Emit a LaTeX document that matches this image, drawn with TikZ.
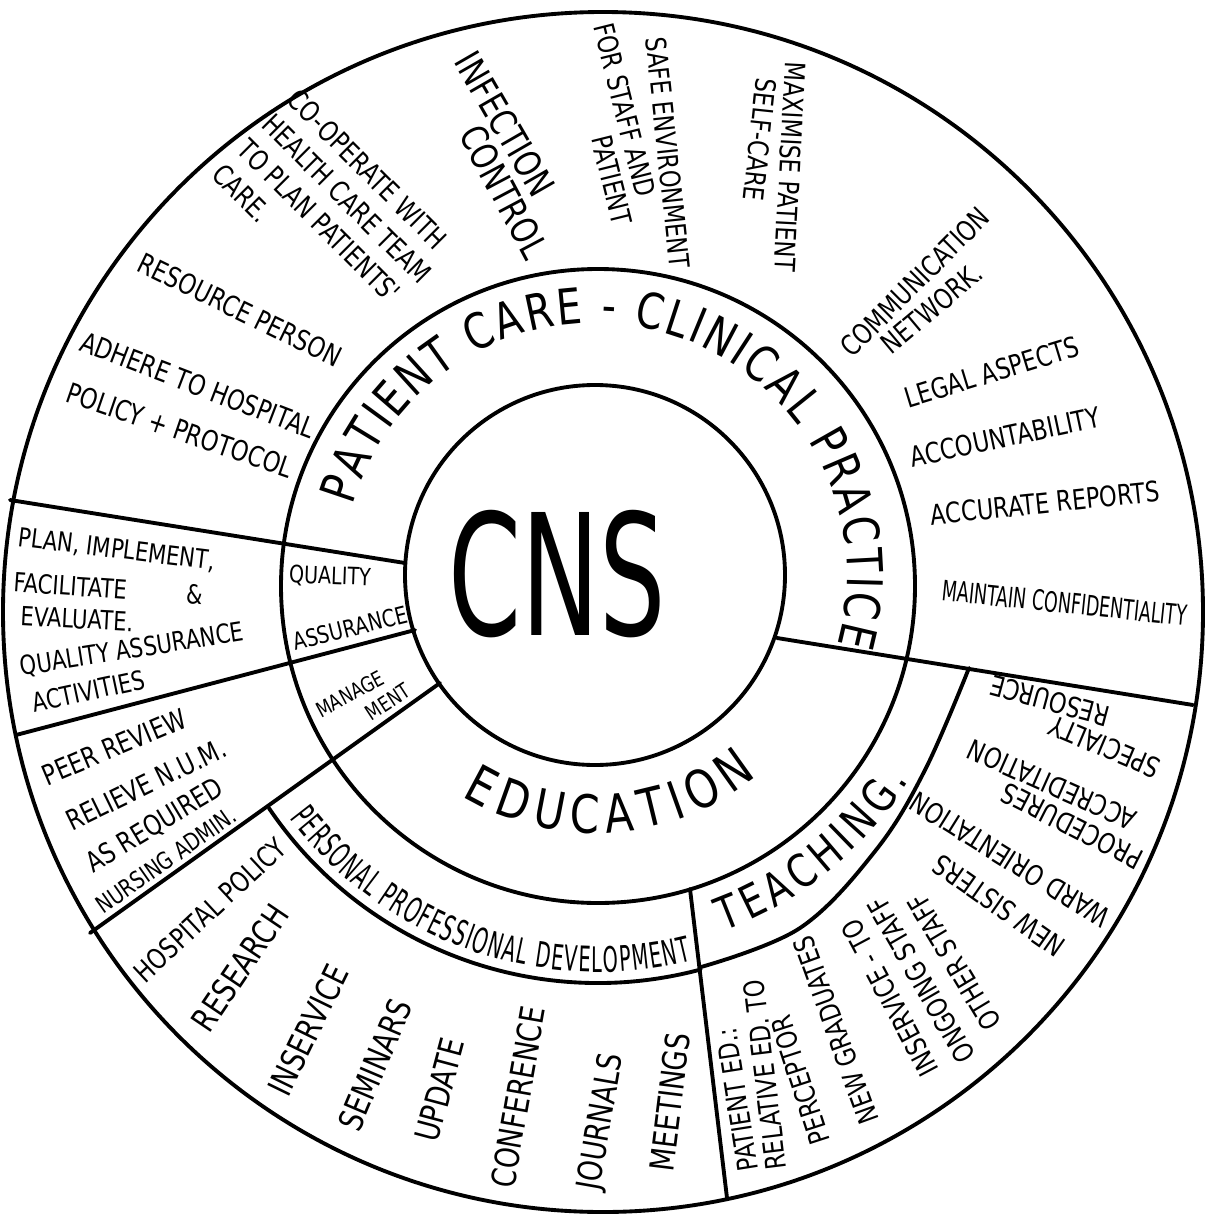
\documentclass[tikz,border=0pt]{standalone}
\usepackage{fontspec}
\usetikzlibrary{decorations.text}

\newfontfamily\hand{DejaVu Sans}[FakeStretch=0.8]
\newfontfamily\handc{DejaVu Sans}[FakeStretch=0.62]
\newfontfamily\handn{DejaVu Sans}[FakeStretch=0.55]

\tikzset{
  rim/.style={line width=1.1pt, line cap=round, line join=round},
  note/.style={font=\hand\fontsize{8}{10}\selectfont, inner sep=0pt, align=center},
  small/.style={note, font=\hand\fontsize{6.8}{8.5}\selectfont},
  tiny/.style={note, font=\hand\fontsize{6}{7}\selectfont},
  big/.style={note, font=\hand\fontsize{9.5}{11}\selectfont},
  curved/.style={decorate, decoration={text along path, text align=fit to path, text={#1}}}
}

\begin{document}
\begin{tikzpicture}[x=0.01cm, y=-0.01cm]
  \useasboundingbox (0,0) rectangle (1206,1218);

  % centres of the rings
  \coordinate (o) at (603,612);
  \coordinate (m) at (598,586);
  \coordinate (c) at (595,575);

  % rings
  \draw[rim] (o) circle[radius=600];
  \draw[rim] (m) circle[radius=317];
  \draw[rim] (c) circle[radius=190];

  % spokes
  \coordinate (ulA) at (10,500);   \coordinate (ulB) at (405,563);
  \coordinate (qmA) at (16,735);   \coordinate (qmB) at (415,630);
  \coordinate (llA) at (90,933);   \coordinate (llB) at (440,683);
  \coordinate (rsA) at (777,638);  \coordinate (rsB) at (1193,705);
  \coordinate (vsA) at (690,889);  \coordinate (vsB) at (727,1198);
  \foreach \a in {ul,qm,ll,rs,vs}
    \draw[rim] (\a A) -- (\a B);

  % outer edges of the development and teaching bands
  \draw[rim] (m) ++(146:397) arc[start angle=146, end angle=75, radius=397];
  \draw[rim] plot[smooth, tension=0.6] coordinates {(701,967) (800,928) (876,850) (925,770) (969,668)};

  % centre
  \node[font=\handc\fontsize{48}{48}\selectfont, inner sep=0pt] (cns) at (557,574) {CNS};

  % inner band
  \path[curved={|\hand\fontsize{14}{14}\selectfont|PATIENT CARE - CLINICAL PRACTICE}]
    (c) ++(196:252) arc[start angle=196, end angle=376, radius=252];
  \path[curved={|\hand\fontsize{15}{15}\selectfont|EDUCATION}]
    (c) ++(121:258) arc[start angle=121, end angle=51, radius=258];
  \node[small, rotate=-2] (qual) at (330,577) {QUALITY};
  \node[small, rotate=14] (assur) at (350,628) {ASSURANCE};
  \node[tiny, rotate=28] (mgmtA) at (350,694) {MANAGE};
  \node[tiny, rotate=33] (mgmtB) at (388,702) {MENT};

  % development and teaching bands
  \path[curved={|\handn\fontsize{10}{10}\selectfont|PERSONAL PROFESSIONAL DEVELOPMENT}]
    (m) ++(143:386) arc[start angle=143, end angle=76, radius=386];
  \path[curved={|\hand\fontsize{13}{13}\selectfont|TEACHING.}]
    (m) ++(70:367) arc[start angle=70, end angle=32, radius=367];

  % patient care items
  \node[note, align=left, rotate=-45, anchor=north west] (coop) at (300,86)
    {CO-OPERATE WITH\\HEALTH CARE TEAM\\TO PLAN PATIENTS'\\CARE.};
  \foreach \x/\y/\ang/\txt [count=\i] in {505/124/-60/INFECTION, 504/192/-62/CONTROL}
    \node[big, font=\hand\fontsize{10.5}{12}\selectfont, rotate=\ang] (inf\i) at (\x,\y) {\txt};
  \foreach \x/\y/\ang/\txt [count=\i] in {
      668/153/-84/{SAFE ENVIRONMENT}, 625/110/-76/{FOR STAFF AND}, 612/180/-76/PATIENT,
      790/167/-93/{MAXIMISE PATIENT}, 760/140/-96/SELF-CARE,
      915/282/45/COMMUNICATION, 932/308/40/NETWORK.,
      992/372/17/{LEGAL ASPECTS}, 1005/437/12/ACCOUNTABILITY,
      1045/503/6/{ACCURATE REPORTS},
      240/310/-26/{RESOURCE PERSON},
      198/385/-21/{ADHERE TO HOSPITAL}, 180/430/-19/{POLICY + PROTOCOL}}
    \node[note, rotate=\ang] (care\i) at (\x,\y) {\txt};
  \node[note, font=\handc\fontsize{8}{9}\selectfont, rotate=-6] (conf) at (1065,603)
    {MAINTAIN CONFIDENTIALITY};

  % quality assurance sector
  \foreach \x/\y/\ang/\txt [count=\i] in {
      18/538/-7/{PLAN, IMPLEMENT,}, 13/582/-4/{FACILITATE \qquad\&}, 20/616/-3/{EVALUATE.},
      20/668/9/{QUALITY ASSURANCE}, 32/703/12/{ACTIVITIES}}
    \node[note, font=\hand\fontsize{7.5}{9}\selectfont, anchor=west, rotate=\ang] (plan\i) at (\x,\y) {\txt};

  % management sector
  \foreach \x/\y/\ang/\txt [count=\i] in {
      43/777/23/{PEER REVIEW}, 67/823/26/{RELIEVE N.U.M.}, 88/866/31/{AS REQUIRED}}
    \node[note, anchor=west, rotate=\ang] (peer\i) at (\x,\y) {\txt};
  \node[small, anchor=west, rotate=35] (peer4) at (98,908) {NURSING ADMIN.};

  % development sector
  \node[note, rotate=43] (dev1) at (210,910) {HOSPITAL POLICY};
  \foreach \x/\y/\ang/\txt [count=\i from 2] in {
      240/968/56/RESEARCH, 308/1030/64/INSERVICE, 375/1065/67/SEMINARS,
      440/1090/75/UPDATE, 518/1097/80/CONFERENCE, 602/1122/80/JOURNALS,
      670/1102/83/MEETINGS}
    \node[big, rotate=\ang] (dev\i) at (\x,\y) {\txt};

  % teaching sector
  \foreach \x/\y/\ang/\txt [count=\i] in {
      737/1100/99/{PATIENT ED.:}, 765/1075/97/{RELATIVE ED. TO}, 800/1080/108/PERCEPTOR,
      836/1030/110/{NEW GRADUATES}, 890/998/118/{INSERVICE - TO}, 921/980/120/{ONGOING STAFF},
      954/962/121/{OTHER STAFF}, 999/906/145/{NEW SISTERS}, 1010/860/148/{WARD ORIENTATION},
      1072/826/153/PROCEDURES, 1052/785/156/ACCREDITATION, 1105/747/157/SPECIALTY,
      1050/701/165/RESOURCE}
    \node[note, rotate=\ang] (teach\i) at (\x,\y) {\txt};

\end{tikzpicture}
\end{document}
